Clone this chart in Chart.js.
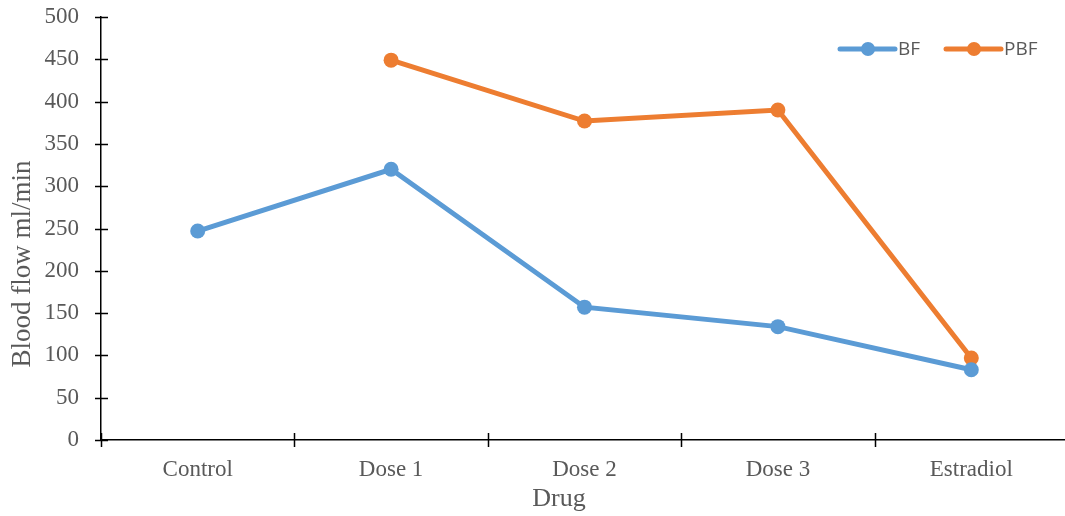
<!DOCTYPE html>
<html>
<head>
<meta charset="utf-8">
<script src="https://cdn.jsdelivr.net/npm/chart.js@4"></script>
<style>
  html, body { margin: 0; padding: 0; background: #fff; overflow: hidden; }
  #wrap { width: 1065px; height: 516px; position: relative; overflow: hidden; }
  #c { display: block; }
</style>
</head>
<body>
<div id="wrap"><canvas id="c" width="1068" height="516"></canvas></div>
<script>
// Blood flow by treatment group
const categories = ['Control', 'Dose 1', 'Dose 2', 'Dose 3', 'Estradiol'];
const bfValues = [247, 320, 157, 134, 83];
const pbfValues = [null, 449, 377, 390, 97];
const yTicks = [0, 50, 100, 150, 200, 250, 300, 350, 400, 450, 500];
const xTitle = 'Drug';
const yTitle = 'Blood flow ml/min';

const BLUE = '#5B9BD5';
const ORANGE = '#ED7D31';
const TEXT = '#595959';
const SERIF = '"Liberation Serif", "Times New Roman", serif';

// Axis ticks that cross the axis line on both sides
const crossTicks = {
  id: 'crossTicks',
  afterDraw(chart) {
    const ctx = chart.ctx;
    const x = chart.scales.x, y = chart.scales.y;
    ctx.save();
    ctx.strokeStyle = '#000';
    ctx.lineWidth = 1.5;
    ctx.beginPath();
    yTicks.forEach(v => {
      const py = Math.round(y.getPixelForValue(v)) + 0.5;
      ctx.moveTo(x.left - 6, py);
      ctx.lineTo(x.left + 7, py);
    });
    const n = categories.length;
    const step = (x.right - x.left) / n;
    for (let i = 0; i <= n; i++) {
      const px = Math.round(x.left + i * step) + 0.5;
      ctx.moveTo(px, y.bottom - 7);
      ctx.lineTo(px, y.bottom + 7);
    }
    ctx.stroke();
    ctx.restore();
  }
};

// Axis titles
const axisTitles = {
  id: 'axisTitles',
  afterDraw(chart) {
    const ctx = chart.ctx;
    ctx.save();
    ctx.fillStyle = TEXT;
    ctx.font = '26px ' + SERIF;
    ctx.textAlign = 'center';
    ctx.textBaseline = 'middle';
    ctx.fillText(xTitle, 559, 499);
    ctx.font = '27px ' + SERIF;
    ctx.translate(23, 264);
    ctx.rotate(-Math.PI / 2);
    ctx.fillText(yTitle, 0, 0);
    ctx.restore();
  }
};

// Legend drawn inside the plot, top right
const innerLegend = {
  id: 'innerLegend',
  afterDraw(chart) {
    const ctx = chart.ctx;
    const items = [
      { ds: chart.data.datasets[0], x: 840 },
      { ds: chart.data.datasets[1], x: 946 }
    ];
    const yc = 49;
    ctx.save();
    items.forEach(it => {
      ctx.strokeStyle = it.ds.borderColor;
      ctx.lineWidth = 5;
      ctx.lineCap = 'round';
      ctx.beginPath();
      ctx.moveTo(it.x, yc);
      ctx.lineTo(it.x + 55, yc);
      ctx.stroke();
      ctx.fillStyle = it.ds.borderColor;
      ctx.beginPath();
      ctx.arc(it.x + 28, yc, 7, 0, Math.PI * 2);
      ctx.fill();
      ctx.fillStyle = TEXT;
      ctx.font = '19px "Open Sans", "Liberation Sans", sans-serif';
      ctx.textBaseline = 'middle';
      ctx.textAlign = 'left';
      ctx.fillText(it.ds.label, it.x + 58, yc + 1);
    });
    ctx.restore();
  }
};

new Chart(document.getElementById('c'), {
  type: 'line',
  data: {
    labels: categories,
    datasets: [
      {
        label: 'BF',
        data: bfValues,
        borderColor: BLUE,
        backgroundColor: BLUE,
        borderWidth: 5,
        pointRadius: 7.5,
        pointHoverRadius: 7.5,
        pointBorderWidth: 0,
        tension: 0
      },
      {
        label: 'PBF',
        data: pbfValues,
        borderColor: ORANGE,
        backgroundColor: ORANGE,
        borderWidth: 5,
        pointRadius: 7.5,
        pointHoverRadius: 7.5,
        pointBorderWidth: 0,
        tension: 0
      }
    ]
  },
  options: {
    responsive: false,
    animation: false,
    events: [],
    layout: { autoPadding: false, padding: { top: 17, right: 0, bottom: 0, left: 0 } },
    plugins: {
      legend: { display: false },
      tooltip: { enabled: false }
    },
    scales: {
      x: {
        type: 'category',
        offset: true,
        grid: { display: false },
        border: { display: true, color: '#000', width: 1.5 },
        ticks: {
          color: TEXT,
          font: { family: SERIF, size: 23 },
          padding: 8
        },
        afterFit(scale) {
          scale.height = 76;
          scale.paddingLeft = 0;
          scale.paddingRight = 0;
        }
      },
      y: {
        min: 0,
        max: 500,
        afterBuildTicks(scale) { scale.ticks = yTicks.map(v => ({ value: v })); },
        grid: { display: false },
        border: { display: true, color: '#000', width: 1.5 },
        ticks: {
          color: TEXT,
          font: { family: SERIF, size: 23 },
          padding: 14
        },
        afterFit(scale) {
          scale.width = 101;
          scale.paddingTop = 0;
          scale.paddingBottom = 0;
        }
      }
    }
  },
  plugins: [crossTicks, axisTitles, innerLegend]
});
</script>
</body>
</html>
